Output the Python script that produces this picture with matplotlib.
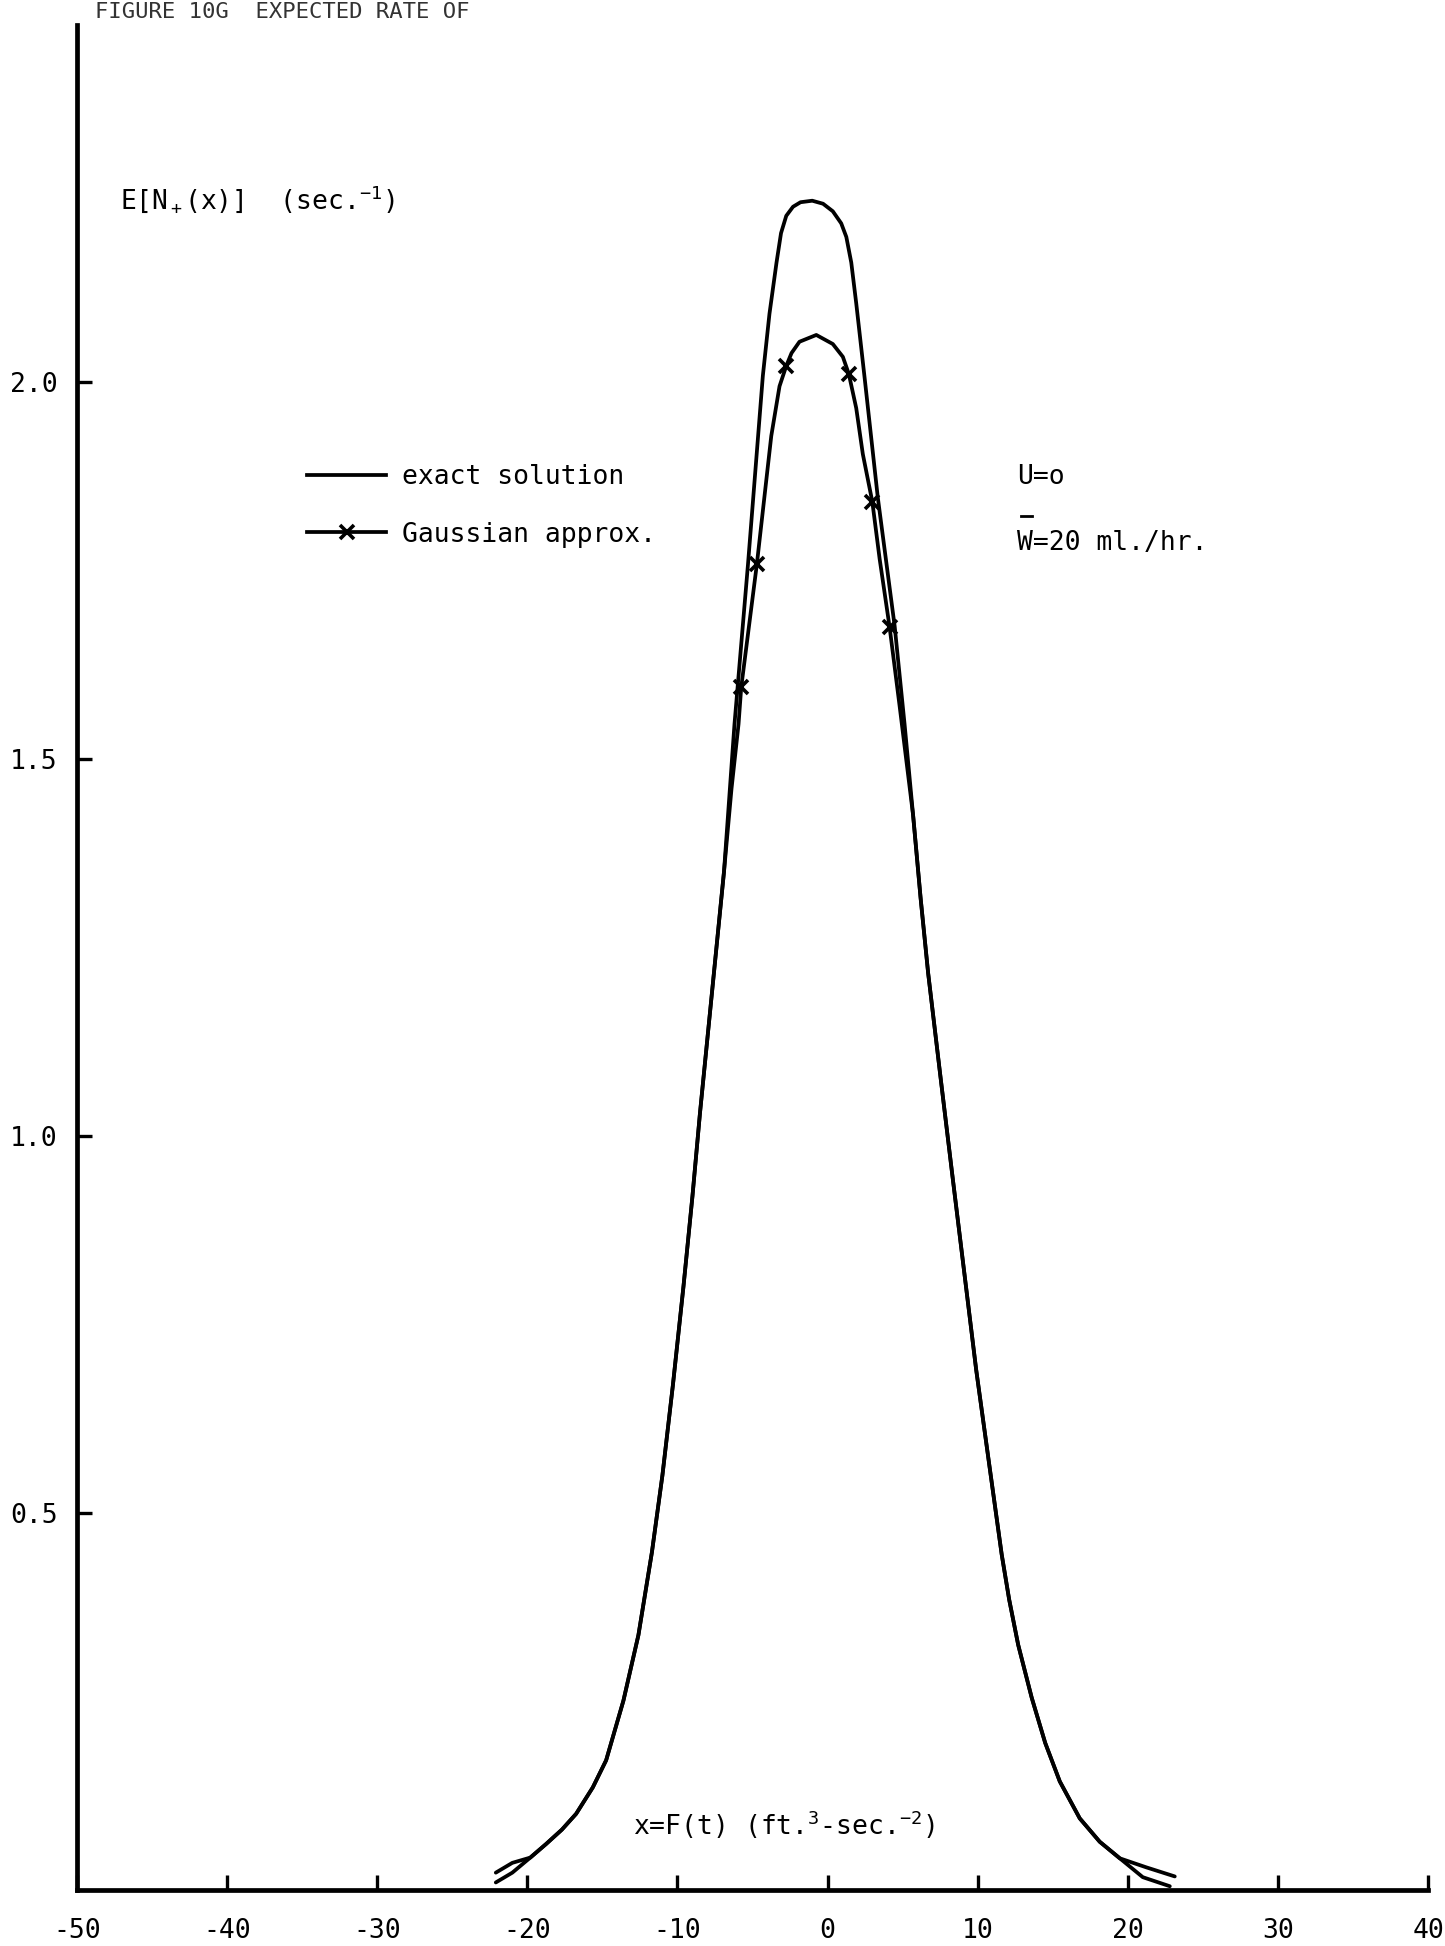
import matplotlib
matplotlib.use("Agg")
import matplotlib.pyplot as plt
from matplotlib.lines import Line2D

plt.rcParams['font.family'] = ['DejaVu Sans Mono']
plt.rcParams['mathtext.fontset'] = 'custom'
plt.rcParams['mathtext.rm'] = 'DejaVu Sans Mono'
plt.rcParams['mathtext.it'] = 'DejaVu Sans Mono'
plt.rcParams['mathtext.bf'] = 'DejaVu Sans Mono'

# exact solution E[N+(x)]
exact_x = [-22.1, -21.0, -19.8, -18.75, -17.7, -16.75, -15.64, -14.75, -13.6, -12.6,
           -11.7, -11.0, -10.3, -9.6, -9.0, -8.5, -7.7, -6.9, -6.2, -5.3,
           -4.31, -3.87, -3.4, -3.1, -2.75, -2.3, -1.8, -1.02, -0.3, 0.35,
           0.91, 1.25, 1.58, 1.91, 2.47, 3.35, 4.47, 5.13, 5.7, 6.2,
           6.7, 7.5, 8.3, 9.1, 9.9, 10.8, 11.6, 12.1, 12.7, 13.6, 14.5,
           15.47, 16.8, 18.13, 19.47, 21.0, 22.8]
exact_y = [0.010, 0.023, 0.043, 0.061, 0.080, 0.101, 0.136, 0.172, 0.251, 0.338,
           0.448, 0.55, 0.67, 0.80, 0.92, 1.03, 1.19, 1.35, 1.546, 1.758,
           2.008, 2.09, 2.158, 2.197, 2.220, 2.232, 2.238, 2.240, 2.236, 2.226,
           2.210, 2.192, 2.158, 2.104, 2.005, 1.846, 1.676, 1.546, 1.425, 1.315,
           1.216, 1.082, 0.95, 0.82, 0.69, 0.56, 0.445, 0.385, 0.325, 0.255, 0.195,
           0.144, 0.095, 0.064, 0.042, 0.017, 0.005]

# gaussian approximation
gauss_x = [-22.1, -21.0, -19.8, -18.75, -17.7, -16.75, -15.64, -14.75, -13.6, -12.6,
           -11.7, -11.0, -10.3, -9.6, -9.0, -8.5, -7.7, -6.9, -6.4, -5.93,
           -5.75, -4.71, -3.75, -3.2, -2.75, -2.4, -1.87, -0.75, 0.35, 1.02,
           1.42, 1.91, 2.35, 2.98, 3.47, 4.13, 4.8, 5.7, 6.2, 6.7,
           7.5, 8.3, 9.1, 9.9, 10.8, 11.6, 12.1, 12.7, 13.6, 14.5, 15.47,
           16.8, 18.13, 19.47, 21.24, 23.13]
gauss_y = [0.023, 0.036, 0.043, 0.061, 0.080, 0.101, 0.136, 0.172, 0.251, 0.338,
           0.448, 0.55, 0.67, 0.80, 0.92, 1.03, 1.19, 1.35, 1.46, 1.546,
           1.595, 1.758, 1.928, 1.994, 2.021, 2.038, 2.053, 2.062, 2.05, 2.033,
           2.01, 1.965, 1.904, 1.841, 1.765, 1.675, 1.57, 1.425, 1.315, 1.216,
           1.082, 0.95, 0.82, 0.69, 0.56, 0.445, 0.385, 0.325, 0.255, 0.195, 0.144,
           0.095, 0.064, 0.042, 0.030, 0.018]

# computed gaussian points
mark_x = [-5.75, -4.71, -2.75, 1.42, 2.98, 4.13]
mark_y = [1.595, 1.758, 2.021, 2.01, 1.841, 1.675]

xticks = [-50, -40, -30, -20, -10, 0, 10, 20, 30, 40]
yticks = [0.5, 1.0, 1.5, 2.0]

W, H = 1445, 1946
fig = plt.figure(figsize=(W / 100, H / 100), dpi=100)
ax = fig.add_axes([77 / W, 1 - 1890 / H, (1428 - 77) / W, (1890 - 25) / H])

line_kw = dict(color='black', lw=2.7, solid_capstyle='round', solid_joinstyle='round')
ax.plot(exact_x, exact_y, **line_kw)
ax.plot(gauss_x, gauss_y, **line_kw)
ax.plot(mark_x, mark_y, ls='none', marker='x', color='black', ms=10, mew=2.6)

ax.set_xlim(-50, 40)
ax.set_ylim(0, 2.473)
ax.set_xticks(xticks)
ax.set_xticklabels([str(v) for v in xticks])
ax.set_yticks(yticks)
ax.set_yticklabels(['%.1f' % v for v in yticks])

for s in ['top', 'right']:
    ax.spines[s].set_visible(False)
for s in ['left', 'bottom']:
    ax.spines[s].set_linewidth(3.4)
ax.tick_params(axis='both', direction='in', length=11, width=2.4, labelsize=19)
ax.tick_params(axis='x', pad=20)
ax.tick_params(axis='y', pad=14)

# legend
handles = [Line2D([], [], color='black', lw=2.7),
           Line2D([], [], color='black', lw=2.7, marker='x', ms=10, mew=2.6)]
ax.legend(handles, ['exact solution', 'Gaussian approx.'], frameon=False,
          fontsize=19, handlelength=3.0, handletextpad=0.6, labelspacing=1.2,
          loc='upper left', borderpad=0, borderaxespad=0,
          bbox_to_anchor=(307 / W, 1 - 464 / H), bbox_transform=fig.transFigure)

# caption line at the top of the page
fig.text(95 / W, 1 - 2 / H, 'FIGURE 10G  EXPECTED RATE OF', fontsize=16,
         va='top', ha='left', color='#333333')

fig.text(120 / W, 1 - 199 / H, r'E[N$_+$(x)]  (sec.$^{-1}$)', fontsize=19,
         va='center', ha='left')
fig.text(1017 / W, 1 - 477 / H, 'U=o', fontsize=19, va='center', ha='left')
fig.text(1017 / W, 1 - 543 / H, 'W=20 ml./hr.', fontsize=19, va='center', ha='left')
# bar over the W
fig.add_artist(Line2D([1021 / W, 1032 / W], [1 - 516 / H, 1 - 516 / H],
                      color='black', lw=2, transform=fig.transFigure))
fig.text(633 / W, 1 - 1825 / H, r'x=F(t) (ft.$^3$-sec.$^{-2}$)', fontsize=19,
         va='center', ha='left')

fig.savefig('out.png', dpi=100)
